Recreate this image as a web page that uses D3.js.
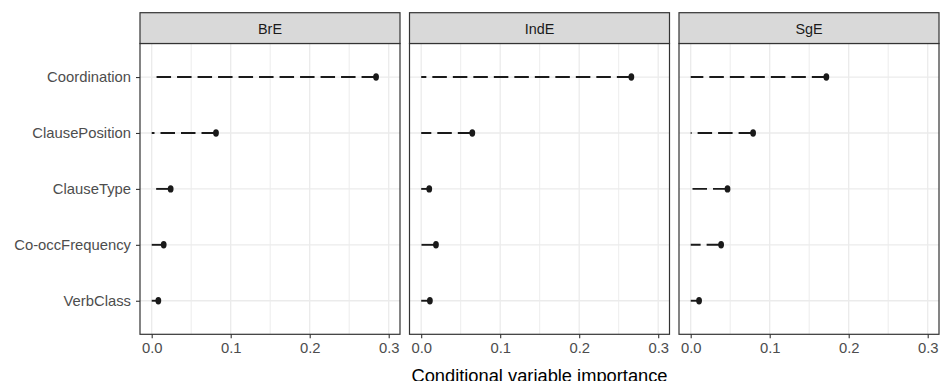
<!DOCTYPE html>
<html>
<head>
<meta charset="utf-8">
<script src="https://cdn.jsdelivr.net/npm/d3@7"></script>
<style>
  body { margin: 0; background: #fff; }
  svg { display: block; font-family: "Liberation Sans", Arial, sans-serif; }
</style>
</head>
<body>
<div id="chart"></div>
<script>
// data
var dialects   = ['BrE', 'IndE', 'SgE'];
var predictors = ['Coordination', 'ClausePosition', 'ClauseType', 'Co-occFrequency', 'VerbClass'];
var breValues  = [0.284, 0.0814, 0.024, 0.0152, 0.0084];
var indeValues = [0.266, 0.0647, 0.0102, 0.0187, 0.011];
var sgeValues  = [0.1717, 0.079, 0.0466, 0.0385, 0.0106];
var xTicks     = [0, 0.1, 0.2, 0.3];
var xMinor     = [0.05, 0.15, 0.25];
var axisTitle  = 'Conditional variable importance';

var seriesByDialect = {BrE: breValues, IndE: indeValues, SgE: sgeValues};

// size setup
var width = 940, height = 381;
var panelLefts = [140, 409.5, 679];
var panelW = 260;
var stripTop = 12.7, panelTop = 43.5, panelBottom = 334.3;

var svg = d3.select('#chart').append('svg')
    .attr('width', width)
    .attr('height', height);

// scales
var xScale = d3.scaleLinear().domain([-0.0148, 0.3143]).range([0, panelW]);
var yScale = d3.scalePoint().domain(predictors).range([panelTop, panelBottom]).padding(0.6);

dialects.forEach(function(dialect, i){
    var g = svg.append('g')
        .attr('transform', 'translate(' + panelLefts[i] + ',0)');
    var vals = seriesByDialect[dialect];
    var rows = predictors.map(function(p, j){ return {name: p, value: vals[j]}; });

    // grid
    g.selectAll('.minor').data(xMinor).enter().append('line')
        .attr('x1', function(d){ return xScale(d); })
        .attr('x2', function(d){ return xScale(d); })
        .attr('y1', panelTop).attr('y2', panelBottom)
        .attr('stroke', '#ebebeb').attr('stroke-width', 0.9);
    g.selectAll('.major').data(xTicks).enter().append('line')
        .attr('x1', function(d){ return xScale(d); })
        .attr('x2', function(d){ return xScale(d); })
        .attr('y1', panelTop).attr('y2', panelBottom)
        .attr('stroke', '#ebebeb').attr('stroke-width', 1.3);
    g.selectAll('.hgrid').data(predictors).enter().append('line')
        .attr('x1', 0).attr('x2', panelW)
        .attr('y1', function(d){ return yScale(d); })
        .attr('y2', function(d){ return yScale(d); })
        .attr('stroke', '#ebebeb').attr('stroke-width', 1.3);

    // segments, drawn from the value back to zero
    g.selectAll('.seg').data(rows).enter().append('line')
        .attr('x1', function(d){ return xScale(d.value); })
        .attr('x2', xScale(0))
        .attr('y1', function(d){ return yScale(d.name); })
        .attr('y2', function(d){ return yScale(d.name); })
        .attr('stroke', '#1a1a1a')
        .attr('stroke-width', 1.9)
        .attr('stroke-dasharray', '14.5,6');

    // points
    g.selectAll('.pt').data(rows).enter().append('ellipse')
        .attr('cx', function(d){ return xScale(d.value); })
        .attr('cy', function(d){ return yScale(d.name); })
        .attr('rx', 2.9).attr('ry', 3.7)
        .attr('fill', '#1a1a1a');

    // panel border
    g.append('rect')
        .attr('x', 0).attr('y', panelTop)
        .attr('width', panelW).attr('height', panelBottom - panelTop)
        .attr('fill', 'none').attr('stroke', '#333333').attr('stroke-width', 1.2);

    // strip
    g.append('rect')
        .attr('x', 0).attr('y', stripTop)
        .attr('width', panelW).attr('height', panelTop - stripTop)
        .attr('fill', '#d9d9d9').attr('stroke', '#333333').attr('stroke-width', 1.2);
    g.append('text')
        .attr('x', panelW / 2).attr('y', 33.5)
        .attr('text-anchor', 'middle')
        .attr('font-size', 14.4)
        .attr('fill', '#1a1a1a')
        .text(dialect);

    // x axis
    var ax = g.append('g')
        .attr('transform', 'translate(0,' + panelBottom + ')')
        .call(d3.axisBottom(xScale).tickValues(xTicks).tickSize(4).tickPadding(4)
              .tickFormat(d3.format('.1f')));
    ax.select('.domain').remove();
    ax.selectAll('line').attr('stroke', '#333333').attr('stroke-width', 1.1);
    ax.selectAll('text').attr('font-size', 14.8).attr('fill', '#4d4d4d')
        .attr('font-family', '"Liberation Sans", Arial, sans-serif');

    // y axis on first panel only
    if(i === 0){
        var ay = g.append('g')
            .call(d3.axisLeft(yScale).tickSize(4).tickPadding(5));
        ay.select('.domain').remove();
        ay.selectAll('line').attr('stroke', '#333333').attr('stroke-width', 1.1);
        ay.selectAll('text').attr('font-size', 14.8).attr('fill', '#4d4d4d')
            .attr('font-family', '"Liberation Sans", Arial, sans-serif');
    }
});

// axis title
svg.append('text')
    .attr('x', (panelLefts[0] + panelLefts[2] + panelW) / 2)
    .attr('y', 382)
    .attr('text-anchor', 'middle')
    .attr('font-size', 18.3)
    .attr('fill', '#000')
    .text(axisTitle);
</script>
</body>
</html>
